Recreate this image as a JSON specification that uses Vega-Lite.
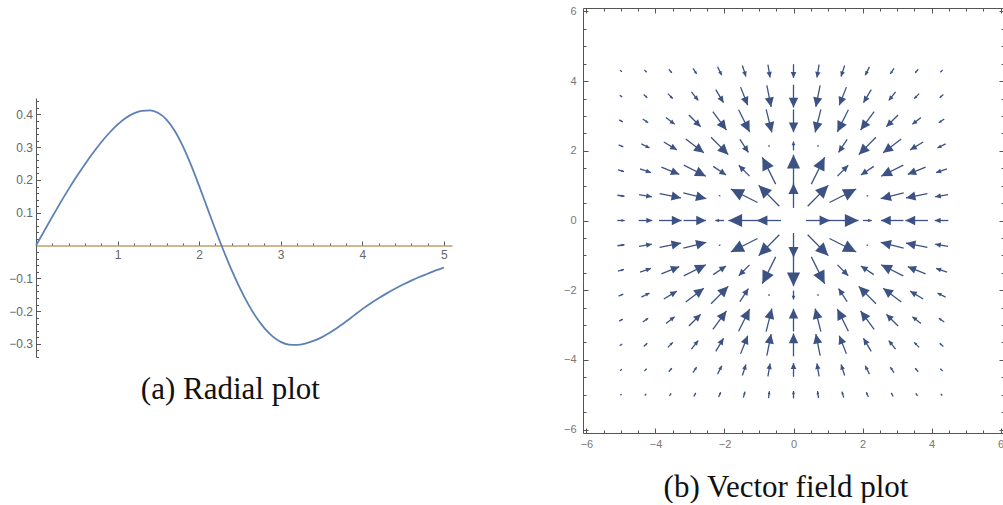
{
"$schema": "https://vega.github.io/schema/vega-lite/v6.json",
"background": "white",
"padding": {"top": 5, "left": 8, "right": 0, "bottom": 0},
"spacing": 111,
"center": true,
"config": {"view": {"stroke": null}, "axis": {"grid": false, "title": null, "labelFont": "Liberation Sans", "labelOverlap": false, "labelFlush": false}},
"hconcat": [
{
 "width": 416, "height": 259,
 "title": {"text": "(a) Radial plot", "subtitle": " ", "subtitleFontSize": 5, "subtitlePadding": 2.5, "orient": "bottom", "frame": "bounds", "anchor": "middle", "font": "Liberation Serif", "fontSize": 31, "fontWeight": "normal", "color": "#111", "offset": 11.5},
 "data": {"values": [
  {"r":0,"f":0},{"r":0.1,"f":0.044},{"r":0.2,"f":0.088},{"r":0.3,"f":0.131},{"r":0.4,"f":0.172},{"r":0.5,"f":0.211},{"r":0.6,"f":0.248},{"r":0.7,"f":0.283},{"r":0.8,"f":0.315},{"r":0.9,"f":0.344},{"r":1.0,"f":0.369},{"r":1.1,"f":0.389},{"r":1.2,"f":0.403},{"r":1.3,"f":0.411},{"r":1.4,"f":0.412},{"r":1.5,"f":0.404},{"r":1.6,"f":0.384},{"r":1.7,"f":0.35},{"r":1.8,"f":0.303},{"r":1.9,"f":0.246},{"r":2.0,"f":0.182},{"r":2.1,"f":0.115},{"r":2.2,"f":0.048},{"r":2.3,"f":-0.016},{"r":2.4,"f":-0.076},{"r":2.5,"f":-0.13},{"r":2.6,"f":-0.178},{"r":2.7,"f":-0.219},{"r":2.8,"f":-0.252},{"r":2.9,"f":-0.277},{"r":3.0,"f":-0.294},{"r":3.1,"f":-0.302},{"r":3.2,"f":-0.303},{"r":3.3,"f":-0.299},{"r":3.4,"f":-0.291},{"r":3.5,"f":-0.28},{"r":3.6,"f":-0.266},{"r":3.7,"f":-0.25},{"r":3.8,"f":-0.232},{"r":3.9,"f":-0.213},{"r":4.0,"f":-0.194},{"r":4.1,"f":-0.177},{"r":4.2,"f":-0.161},{"r":4.3,"f":-0.146},{"r":4.4,"f":-0.132},{"r":4.5,"f":-0.119},{"r":4.6,"f":-0.107},{"r":4.7,"f":-0.096},{"r":4.8,"f":-0.086},{"r":4.9,"f":-0.076},{"r":5.0,"f":-0.067}
 ]},
 "mark": {"type": "line", "color": "#5e81b5", "strokeWidth": 1.8, "interpolate": "monotone"},
 "encoding": {
  "x": {"field": "r", "type": "quantitative", "scale": {"domain": [0, 5.1], "nice": false, "zero": false},
   "axis": {"orient": "bottom", "offset": -111.47, "values": [0.2,0.4,0.6,0.8,1,1.2,1.4,1.6,1.8,2,2.2,2.4,2.6,2.8,3,3.2,3.4,3.6,3.8,4,4.2,4.4,4.6,4.8,5],
    "labelExpr": "abs(datum.value - round(datum.value)) < 0.001 ? format(datum.value, 'd') : ''",
    "domainColor": "#bf9f6c", "domainWidth": 1.6, "tickColor": "#555", "tickWidth": 1,
    "tickSize": {"condition": {"test": "abs(datum.value - round(datum.value)) < 0.001", "value": -4.5}, "value": -2.5},
    "labelPadding": 8, "labelColor": "#666", "labelFontSize": 12}},
  "y": {"field": "f", "type": "quantitative", "scale": {"domain": [-0.34, 0.45], "nice": false, "zero": false},
   "axis": {"orient": "left", "values": [-0.34,-0.32,-0.3,-0.28,-0.26,-0.24,-0.22,-0.2,-0.18,-0.16,-0.14,-0.12,-0.1,-0.08,-0.06,-0.04,-0.02,0.02,0.04,0.06,0.08,0.1,0.12,0.14,0.16,0.18,0.2,0.22,0.24,0.26,0.28,0.3,0.32,0.34,0.36,0.38,0.4,0.42,0.44],
    "labelExpr": "abs(datum.value*10 - round(datum.value*10)) < 0.001 ? format(datum.value, '.1f') : ''",
    "domainColor": "#555", "tickColor": "#555",
    "tickSize": {"condition": {"test": "abs(datum.value*10 - round(datum.value*10)) < 0.001", "value": -4.5}, "value": -2.5},
    "labelPadding": 8, "labelColor": "#666", "labelFontSize": 12}}
 }
},
{
 "width": 421, "height": 425,
 "title": {"text": "(b) Vector field plot", "orient": "bottom", "frame": "bounds", "anchor": "middle", "dx": 2, "font": "Liberation Serif", "fontSize": 31, "fontWeight": "normal", "color": "#111", "offset": 22},
 "data": {"values": [
  {"x":-5,"y":4.29,"u":0.0114,"v":-0.0098},{"x":-4.29,"y":4.29,"u":0.017,"v":-0.017},{"x":-3.57,"y":4.29,"u":0.0244,"v":-0.0292},{"x":-2.86,"y":4.29,"u":0.0316,"v":-0.0474},{"x":-2.14,"y":4.29,"u":0.0394,"v":-0.0787},{"x":-1.43,"y":4.29,"u":0.0367,"v":-0.11},{"x":-0.71,"y":4.29,"u":0.0222,"v":-0.1332},{"x":0,"y":4.29,"u":0,"v":-0.144},{"x":0.71,"y":4.29,"u":-0.0222,"v":-0.1332},{"x":1.43,"y":4.29,"u":-0.0367,"v":-0.11},{"x":2.14,"y":4.29,"u":-0.0394,"v":-0.0787},{"x":2.86,"y":4.29,"u":-0.0316,"v":-0.0474},{"x":3.57,"y":4.29,"u":-0.0244,"v":-0.0292},{"x":4.29,"y":4.29,"u":-0.017,"v":-0.017},
  {"x":-5,"y":3.57,"u":0.0179,"v":-0.0128},{"x":-4.29,"y":3.57,"u":0.0292,"v":-0.0244},{"x":-3.57,"y":3.57,"u":0.0446,"v":-0.0446},{"x":-2.86,"y":3.57,"u":0.0687,"v":-0.0859},{"x":-2.14,"y":3.57,"u":0.0843,"v":-0.1405},{"x":-1.43,"y":3.57,"u":0.0824,"v":-0.206},{"x":-0.71,"y":3.57,"u":0.051,"v":-0.255},{"x":0,"y":3.57,"u":0,"v":-0.272},{"x":0.71,"y":3.57,"u":-0.051,"v":-0.255},{"x":1.43,"y":3.57,"u":-0.0824,"v":-0.206},{"x":2.14,"y":3.57,"u":-0.0843,"v":-0.1405},{"x":2.86,"y":3.57,"u":-0.0687,"v":-0.0859},{"x":3.57,"y":3.57,"u":-0.0446,"v":-0.0446},{"x":4.29,"y":3.57,"u":-0.0292,"v":-0.0244},
  {"x":-5,"y":2.86,"u":0.0278,"v":-0.0159},{"x":-4.29,"y":2.86,"u":0.0474,"v":-0.0316},{"x":-3.57,"y":2.86,"u":0.0859,"v":-0.0687},{"x":-2.86,"y":2.86,"u":0.1308,"v":-0.1308},{"x":-2.14,"y":2.86,"u":0.1632,"v":-0.2176},{"x":-1.43,"y":2.86,"u":0.1356,"v":-0.2712},{"x":-0.71,"y":2.86,"u":0.0694,"v":-0.2776},{"x":0,"y":2.86,"u":0,"v":-0.27},{"x":0.71,"y":2.86,"u":-0.0694,"v":-0.2776},{"x":1.43,"y":2.86,"u":-0.1356,"v":-0.2712},{"x":2.14,"y":2.86,"u":-0.1632,"v":-0.2176},{"x":2.86,"y":2.86,"u":-0.1308,"v":-0.1308},{"x":3.57,"y":2.86,"u":-0.0859,"v":-0.0687},{"x":4.29,"y":2.86,"u":-0.0474,"v":-0.0316},
  {"x":-5,"y":2.14,"u":0.0396,"v":-0.017},{"x":-4.29,"y":2.14,"u":0.0787,"v":-0.0394},{"x":-3.57,"y":2.14,"u":0.1405,"v":-0.0843},{"x":-2.86,"y":2.14,"u":0.2176,"v":-0.1632},{"x":-2.14,"y":2.14,"u":0.2106,"v":-0.2106},{"x":-1.43,"y":2.14,"u":0.0932,"v":-0.1398},{"x":-0.71,"y":2.14,"u":-0.0032,"v":0.0095},{"x":0,"y":2.14,"u":0,"v":0.084},{"x":0.71,"y":2.14,"u":0.0032,"v":0.0095},{"x":1.43,"y":2.14,"u":-0.0932,"v":-0.1398},{"x":2.14,"y":2.14,"u":-0.2106,"v":-0.2106},{"x":2.86,"y":2.14,"u":-0.2176,"v":-0.1632},{"x":3.57,"y":2.14,"u":-0.1405,"v":-0.0843},{"x":4.29,"y":2.14,"u":-0.0787,"v":-0.0394},
  {"x":-5,"y":1.43,"u":0.0519,"v":-0.0148},{"x":-4.29,"y":1.43,"u":0.11,"v":-0.0367},{"x":-3.57,"y":1.43,"u":0.206,"v":-0.0824},{"x":-2.86,"y":1.43,"u":0.2712,"v":-0.1356},{"x":-2.14,"y":1.43,"u":0.1398,"v":-0.0932},{"x":-1.43,"y":1.43,"u":-0.1174,"v":0.1174},{"x":-0.71,"y":1.43,"u":-0.1717,"v":0.3434},{"x":0,"y":1.43,"u":0,"v":0.411},{"x":0.71,"y":1.43,"u":0.1717,"v":0.3434},{"x":1.43,"y":1.43,"u":0.1174,"v":0.1174},{"x":2.14,"y":1.43,"u":-0.1398,"v":-0.0932},{"x":2.86,"y":1.43,"u":-0.2712,"v":-0.1356},{"x":3.57,"y":1.43,"u":-0.206,"v":-0.0824},{"x":4.29,"y":1.43,"u":-0.11,"v":-0.0367},
  {"x":-5,"y":0.71,"u":0.0624,"v":-0.0089},{"x":-4.29,"y":0.71,"u":0.1332,"v":-0.0222},{"x":-3.57,"y":0.71,"u":0.255,"v":-0.051},{"x":-2.86,"y":0.71,"u":0.2776,"v":-0.0694},{"x":-2.14,"y":0.71,"u":-0.0095,"v":0.0032},{"x":-1.43,"y":0.71,"u":-0.3434,"v":0.1717},{"x":-0.71,"y":0.71,"u":-0.2645,"v":0.2645},{"x":0,"y":0.71,"u":0,"v":0.294},{"x":0.71,"y":0.71,"u":0.2645,"v":0.2645},{"x":1.43,"y":0.71,"u":0.3434,"v":0.1717},{"x":2.14,"y":0.71,"u":0.0095,"v":0.0032},{"x":2.86,"y":0.71,"u":-0.2776,"v":-0.0694},{"x":3.57,"y":0.71,"u":-0.255,"v":-0.051},{"x":4.29,"y":0.71,"u":-0.1332,"v":-0.0222},
  {"x":-5,"y":0,"u":0.067,"v":0},{"x":-4.29,"y":0,"u":0.144,"v":0},{"x":-3.57,"y":0,"u":0.272,"v":0},{"x":-2.86,"y":0,"u":0.27,"v":0},{"x":-2.14,"y":0,"u":-0.084,"v":0},{"x":-1.43,"y":0,"u":-0.411,"v":0},{"x":-0.71,"y":0,"u":-0.294,"v":0},{"x":0.71,"y":0,"u":0.294,"v":0},{"x":1.43,"y":0,"u":0.411,"v":0},{"x":2.14,"y":0,"u":0.084,"v":0},{"x":2.86,"y":0,"u":-0.27,"v":0},{"x":3.57,"y":0,"u":-0.272,"v":0},{"x":4.29,"y":0,"u":-0.144,"v":0},
  {"x":-5,"y":-0.71,"u":0.0624,"v":0.0089},{"x":-4.29,"y":-0.71,"u":0.1332,"v":0.0222},{"x":-3.57,"y":-0.71,"u":0.255,"v":0.051},{"x":-2.86,"y":-0.71,"u":0.2776,"v":0.0694},{"x":-2.14,"y":-0.71,"u":-0.0095,"v":-0.0032},{"x":-1.43,"y":-0.71,"u":-0.3434,"v":-0.1717},{"x":-0.71,"y":-0.71,"u":-0.2645,"v":-0.2645},{"x":0,"y":-0.71,"u":0,"v":-0.294},{"x":0.71,"y":-0.71,"u":0.2645,"v":-0.2645},{"x":1.43,"y":-0.71,"u":0.3434,"v":-0.1717},{"x":2.14,"y":-0.71,"u":0.0095,"v":-0.0032},{"x":2.86,"y":-0.71,"u":-0.2776,"v":0.0694},{"x":3.57,"y":-0.71,"u":-0.255,"v":0.051},{"x":4.29,"y":-0.71,"u":-0.1332,"v":0.0222},
  {"x":-5,"y":-1.43,"u":0.0519,"v":0.0148},{"x":-4.29,"y":-1.43,"u":0.11,"v":0.0367},{"x":-3.57,"y":-1.43,"u":0.206,"v":0.0824},{"x":-2.86,"y":-1.43,"u":0.2712,"v":0.1356},{"x":-2.14,"y":-1.43,"u":0.1398,"v":0.0932},{"x":-1.43,"y":-1.43,"u":-0.1174,"v":-0.1174},{"x":-0.71,"y":-1.43,"u":-0.1717,"v":-0.3434},{"x":0,"y":-1.43,"u":0,"v":-0.411},{"x":0.71,"y":-1.43,"u":0.1717,"v":-0.3434},{"x":1.43,"y":-1.43,"u":0.1174,"v":-0.1174},{"x":2.14,"y":-1.43,"u":-0.1398,"v":0.0932},{"x":2.86,"y":-1.43,"u":-0.2712,"v":0.1356},{"x":3.57,"y":-1.43,"u":-0.206,"v":0.0824},{"x":4.29,"y":-1.43,"u":-0.11,"v":0.0367},
  {"x":-5,"y":-2.14,"u":0.0396,"v":0.017},{"x":-4.29,"y":-2.14,"u":0.0787,"v":0.0394},{"x":-3.57,"y":-2.14,"u":0.1405,"v":0.0843},{"x":-2.86,"y":-2.14,"u":0.2176,"v":0.1632},{"x":-2.14,"y":-2.14,"u":0.2106,"v":0.2106},{"x":-1.43,"y":-2.14,"u":0.0932,"v":0.1398},{"x":-0.71,"y":-2.14,"u":-0.0032,"v":-0.0095},{"x":0,"y":-2.14,"u":0,"v":-0.084},{"x":0.71,"y":-2.14,"u":0.0032,"v":-0.0095},{"x":1.43,"y":-2.14,"u":-0.0932,"v":0.1398},{"x":2.14,"y":-2.14,"u":-0.2106,"v":0.2106},{"x":2.86,"y":-2.14,"u":-0.2176,"v":0.1632},{"x":3.57,"y":-2.14,"u":-0.1405,"v":0.0843},{"x":4.29,"y":-2.14,"u":-0.0787,"v":0.0394},
  {"x":-5,"y":-2.86,"u":0.0278,"v":0.0159},{"x":-4.29,"y":-2.86,"u":0.0474,"v":0.0316},{"x":-3.57,"y":-2.86,"u":0.0859,"v":0.0687},{"x":-2.86,"y":-2.86,"u":0.1308,"v":0.1308},{"x":-2.14,"y":-2.86,"u":0.1632,"v":0.2176},{"x":-1.43,"y":-2.86,"u":0.1356,"v":0.2712},{"x":-0.71,"y":-2.86,"u":0.0694,"v":0.2776},{"x":0,"y":-2.86,"u":0,"v":0.27},{"x":0.71,"y":-2.86,"u":-0.0694,"v":0.2776},{"x":1.43,"y":-2.86,"u":-0.1356,"v":0.2712},{"x":2.14,"y":-2.86,"u":-0.1632,"v":0.2176},{"x":2.86,"y":-2.86,"u":-0.1308,"v":0.1308},{"x":3.57,"y":-2.86,"u":-0.0859,"v":0.0687},{"x":4.29,"y":-2.86,"u":-0.0474,"v":0.0316},
  {"x":-5,"y":-3.57,"u":0.0179,"v":0.0128},{"x":-4.29,"y":-3.57,"u":0.0292,"v":0.0244},{"x":-3.57,"y":-3.57,"u":0.0446,"v":0.0446},{"x":-2.86,"y":-3.57,"u":0.0687,"v":0.0859},{"x":-2.14,"y":-3.57,"u":0.0843,"v":0.1405},{"x":-1.43,"y":-3.57,"u":0.0824,"v":0.206},{"x":-0.71,"y":-3.57,"u":0.051,"v":0.255},{"x":0,"y":-3.57,"u":0,"v":0.272},{"x":0.71,"y":-3.57,"u":-0.051,"v":0.255},{"x":1.43,"y":-3.57,"u":-0.0824,"v":0.206},{"x":2.14,"y":-3.57,"u":-0.0843,"v":0.1405},{"x":2.86,"y":-3.57,"u":-0.0687,"v":0.0859},{"x":3.57,"y":-3.57,"u":-0.0446,"v":0.0446},{"x":4.29,"y":-3.57,"u":-0.0292,"v":0.0244},
  {"x":-5,"y":-4.29,"u":0.0114,"v":0.0098},{"x":-4.29,"y":-4.29,"u":0.017,"v":0.017},{"x":-3.57,"y":-4.29,"u":0.0244,"v":0.0292},{"x":-2.86,"y":-4.29,"u":0.0316,"v":0.0474},{"x":-2.14,"y":-4.29,"u":0.0394,"v":0.0787},{"x":-1.43,"y":-4.29,"u":0.0367,"v":0.11},{"x":-0.71,"y":-4.29,"u":0.0222,"v":0.1332},{"x":0,"y":-4.29,"u":0,"v":0.144},{"x":0.71,"y":-4.29,"u":-0.0222,"v":0.1332},{"x":1.43,"y":-4.29,"u":-0.0367,"v":0.11},{"x":2.14,"y":-4.29,"u":-0.0394,"v":0.0787},{"x":2.86,"y":-4.29,"u":-0.0316,"v":0.0474},{"x":3.57,"y":-4.29,"u":-0.0244,"v":0.0292},{"x":4.29,"y":-4.29,"u":-0.017,"v":0.017},
  {"x":-5,"y":-5,"u":0.0071,"v":0.0071},{"x":-4.29,"y":-5,"u":0.0098,"v":0.0114},{"x":-3.57,"y":-5,"u":0.0128,"v":0.0179},{"x":-2.86,"y":-5,"u":0.0159,"v":0.0278},{"x":-2.14,"y":-5,"u":0.017,"v":0.0396},{"x":-1.43,"y":-5,"u":0.0148,"v":0.0519},{"x":-0.71,"y":-5,"u":0.0089,"v":0.0624},{"x":0,"y":-5,"u":0,"v":0.067},{"x":0.71,"y":-5,"u":-0.0089,"v":0.0624},{"x":1.43,"y":-5,"u":-0.0148,"v":0.0519},{"x":2.14,"y":-5,"u":-0.017,"v":0.0396},{"x":2.86,"y":-5,"u":-0.0159,"v":0.0278},{"x":3.57,"y":-5,"u":-0.0128,"v":0.0179},{"x":4.29,"y":-5,"u":-0.0098,"v":0.0114}
 ]},
 "transform": [
  {"calculate": "sqrt(datum.u*datum.u + datum.v*datum.v)", "as": "m"},
  {"calculate": "0.93*pow(datum.m, 0.8)", "as": "h"},
  {"calculate": "datum.x - datum.h*datum.u/datum.m", "as": "x1"},
  {"calculate": "datum.y - datum.h*datum.v/datum.m", "as": "y1"},
  {"calculate": "datum.x + datum.h*datum.u/datum.m", "as": "x2"},
  {"calculate": "datum.y + datum.h*datum.v/datum.m", "as": "y2"},
  {"calculate": "atan2(datum.u, datum.v)*180/PI", "as": "ang"},
  {"calculate": "pow(60*datum.h, 2)", "as": "hs"}
 ],
 "layer": [
  {"mark": {"type": "rule", "color": "#3b5283", "strokeWidth": 1.3},
   "encoding": {
    "x": {"field": "x1", "type": "quantitative", "scale": {"domain": [-6.1, 6.1], "nice": false, "zero": false},
     "axis": {"orient": "bottom", "values": [-6,-5.5,-5,-4.5,-4,-3.5,-3,-2.5,-2,-1.5,-1,-0.5,0,0.5,1,1.5,2,2.5,3,3.5,4,4.5,5,5.5,6],
      "labelExpr": "datum.value % 2 == 0 ? format(datum.value, 'd') : ''",
      "domainColor": "#555", "tickColor": "#555",
      "tickSize": {"condition": {"test": "datum.value % 2 == 0", "value": -5}, "value": -3},
      "labelPadding": 10, "labelColor": "#777", "labelFontSize": 11}},
    "y": {"field": "y1", "type": "quantitative", "scale": {"domain": [-6.1, 6.1], "nice": false, "zero": false},
     "axis": {"orient": "left", "values": [-6,-5.5,-5,-4.5,-4,-3.5,-3,-2.5,-2,-1.5,-1,-0.5,0,0.5,1,1.5,2,2.5,3,3.5,4,4.5,5,5.5,6],
      "labelExpr": "datum.value % 2 == 0 ? format(datum.value, 'd') : ''",
      "domainColor": "#555", "tickColor": "#555",
      "tickSize": {"condition": {"test": "datum.value % 2 == 0", "value": -5}, "value": -3},
      "labelPadding": 12, "labelColor": "#777", "labelFontSize": 11}},
    "x2": {"field": "x2"},
    "y2": {"field": "y2"}
   }},
  {"mark": {"type": "point", "shape": "M0,0L-0.48,1L0.48,1Z", "filled": true, "color": "#3b5283", "opacity": 1, "strokeWidth": 0},
   "encoding": {
    "x": {"field": "x2", "type": "quantitative", "scale": {"domain": [-6.1, 6.1], "nice": false, "zero": false},
     "axis": {"orient": "top", "values": [-6,-5.5,-5,-4.5,-4,-3.5,-3,-2.5,-2,-1.5,-1,-0.5,0,0.5,1,1.5,2,2.5,3,3.5,4,4.5,5,5.5,6],
      "labels": false, "domainColor": "#555", "tickColor": "#555",
      "tickSize": {"condition": {"test": "datum.value % 2 == 0", "value": -5}, "value": -3}}},
    "y": {"field": "y2", "type": "quantitative", "scale": {"domain": [-6.1, 6.1], "nice": false, "zero": false},
     "axis": {"orient": "right", "values": [-6,-5.5,-5,-4.5,-4,-3.5,-3,-2.5,-2,-1.5,-1,-0.5,0,0.5,1,1.5,2,2.5,3,3.5,4,4.5,5,5.5,6],
      "labels": false, "domainColor": "#555", "tickColor": "#555",
      "tickSize": {"condition": {"test": "datum.value % 2 == 0", "value": -5}, "value": -3}}},
    "angle": {"field": "ang", "type": "quantitative", "scale": null},
    "size": {"field": "hs", "type": "quantitative", "scale": null}
   }}
 ],
 "resolve": {"axis": {"x": "independent", "y": "independent"}}
}
]
}
